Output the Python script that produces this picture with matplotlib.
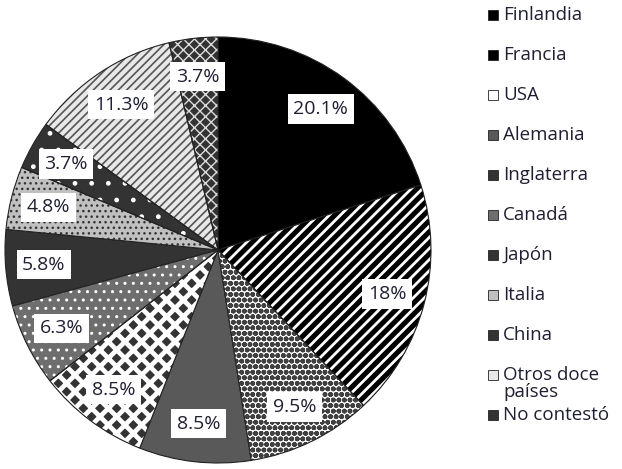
import matplotlib
matplotlib.use("Agg")
import matplotlib.pyplot as plt
from matplotlib.patches import Wedge, Rectangle

# data, clockwise from 12 o'clock
countries = ["Finlandia", "Francia", "USA", "Alemania", "Inglaterra", "Canadá",
             "Japón", "Italia", "China", "Otros doce\npaíses", "No contestó"]
shares = [20.1, 18, 9.5, 8.5, 8.5, 6.3, 5.8, 4.8, 3.7, 11.3, 3.7]

# face colour, hatch colour, hatch pattern, hatch width per slice
faces   = ["#000000", "#000000", "#ffffff", "#595959", "#333333", "#6e6e6e",
           "#333333", "#c0c0c0", "#333333", "#e8e8e8", "#333333"]
hcolors = ["#000000", "#ffffff", "#404040", "#595959", "#ffffff", "#ffffff",
           "#333333", "#333333", "#ffffff", "#555555", "#dddddd"]
hatches = [None, "///", "ooo", None, "xx", "..", None, "...", ".", "////", "xxx"]
hwidths = [1, 2.0, 1.8, 1, 3.4, 1, 1, 1, 1, 1.2, 1.0]

plt.rcParams["font.family"] = ["Open Sans", "DejaVu Sans"]
text_col = "#1f1f33"

fig = plt.figure(figsize=(6.22, 4.69), dpi=100)
ax = fig.add_axes([5 / 622, 6 / 469, 426 / 622, 426 / 469])

labels = iter(f"{v:g}%" for v in shares)
wedges, _, autotexts = ax.pie(shares, startangle=90, counterclock=False,
                              autopct=lambda p: next(labels), pctdistance=0.82,
                              wedgeprops=dict(linewidth=0.8, edgecolor="#222222"),
                              textprops=dict(fontsize=14, color=text_col))
ax.set_xlim(-1, 1)
ax.set_ylim(-1, 1)
ax.set_aspect("equal")

for w, fc, hc, h, hw in zip(wedges, faces, hcolors, hatches, hwidths):
    w.set_facecolor(fc)
    if h:
        # wedge outline on top, hatch in its own colour just below it
        w.set_facecolor("none")
        w.set_zorder(3)
        ax.add_patch(Wedge(w.center, w.r, w.theta1, w.theta2, facecolor=fc,
                           linewidth=0, zorder=1))
        with plt.rc_context({"hatch.linewidth": hw}):
            ax.add_patch(Wedge(w.center, w.r, w.theta1, w.theta2, facecolor="none",
                               edgecolor=hc, hatch=h, linewidth=0, zorder=2))

for t in autotexts:
    t.set_bbox(dict(facecolor="white", edgecolor="none", pad=4))
    t.set_zorder(10)

# legend built by hand: 40 px rows, two-line entry does not push the next one
for i, (name, fc) in enumerate(zip(countries, faces)):
    y = 1 - (15 + 40 * i) / 469
    fig.patches.append(Rectangle((488 / 622, y - 5 / 469), 10 / 622, 10 / 469,
                                 transform=fig.transFigure, facecolor=fc,
                                 edgecolor="#222222", linewidth=0.6))
    fig.text(503 / 622, y + 9 / 469, name, fontsize=13.5, color=text_col,
             va="top", ha="left", linespacing=0.9)

fig.savefig("out.png", dpi=100)
